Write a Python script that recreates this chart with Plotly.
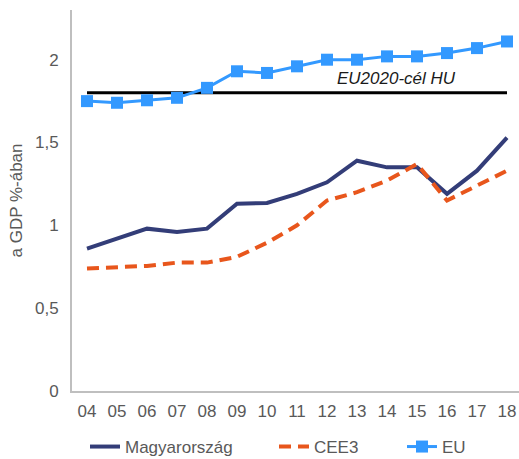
import plotly.graph_objects as go

years = ["04", "05", "06", "07", "08", "09", "10", "11", "12", "13", "14", "15", "16", "17", "18"]
hu = [0.86, 0.92, 0.98, 0.96, 0.98, 1.13, 1.135, 1.19, 1.26, 1.39, 1.35, 1.35, 1.19, 1.33, 1.53]
cee3 = [0.74, 0.745, 0.755, 0.775, 0.775, 0.81, 0.895, 1.0, 1.15, 1.2, 1.27, 1.37, 1.15, 1.24, 1.33]
eu = [1.75, 1.74, 1.755, 1.77, 1.83, 1.93, 1.92, 1.96, 2.0, 2.0, 2.02, 2.02, 2.04, 2.07, 2.11]
target = [1.8] * len(years)
target_label = "EU2020-cél HU"

FONT = "Liberation Sans, Arial"
GREY = "#595959"

fig = go.Figure()
fig.add_trace(go.Scatter(x=years, y=target, mode="lines", line=dict(color="#000000", width=3),
                         showlegend=False, hoverinfo="skip"))
fig.add_trace(go.Scatter(x=years, y=hu, mode="lines", name="Magyarország", legend="legend",
                         line=dict(color="#333D78", width=4)))
fig.add_trace(go.Scatter(x=years, y=cee3, mode="lines", name="CEE3", legend="legend2",
                         line=dict(color="#E8561C", width=4, dash="12px,7px")))
fig.add_trace(go.Scatter(x=years, y=eu, mode="lines+markers", name="EU", legend="legend3",
                         line=dict(color="#3399FF", width=3),
                         marker=dict(symbol="square", size=12, color="#3399FF")))

fig.add_annotation(x=10.3, y=target[0], text="<i>" + target_label + "</i>", showarrow=False,
                   yshift=14, font=dict(family=FONT, size=17, color="#1a1a1a"))

def leg(px):
    return dict(orientation="h", x=(px - 72) / 447, xanchor="left",
                yref="container", y=1 - 447 / 459, yanchor="middle",
                font=dict(size=17, color=GREY, family=FONT), bgcolor="rgba(0,0,0,0)")

fig.update_layout(
    width=519, height=459,
    margin=dict(l=72, r=0, t=10, b=68, autoexpand=False),
    plot_bgcolor="white", paper_bgcolor="white",
    font=dict(family=FONT, size=17, color=GREY),
    showlegend=True,
    legend=leg(85), legend2=leg(274), legend3=leg(402),
    xaxis=dict(type="category", range=[-0.5, 14.4], showline=True, linecolor="#BFBFBF", linewidth=2,
               showgrid=False, ticks="", tickfont=dict(size=17, color=GREY), zeroline=False,
               ticklabelstandoff=4),
    yaxis=dict(range=[0, 2.3], tickvals=[0, 0.5, 1, 1.5, 2], ticktext=["0", "0,5", "1", "1,5", "2"],
               showline=True, linecolor="#BFBFBF", linewidth=2, showgrid=False, ticks="",
               tickfont=dict(size=17, color=GREY), zeroline=False, ticklabelstandoff=8,
               title=dict(text="a GDP %-ában", font=dict(size=17, color=GREY), standoff=8)),
)

fig.write_html("out.html", config={"displayModeBar": False},
               post_script="document.body.style.margin='0';document.body.style.overflow='hidden';")
